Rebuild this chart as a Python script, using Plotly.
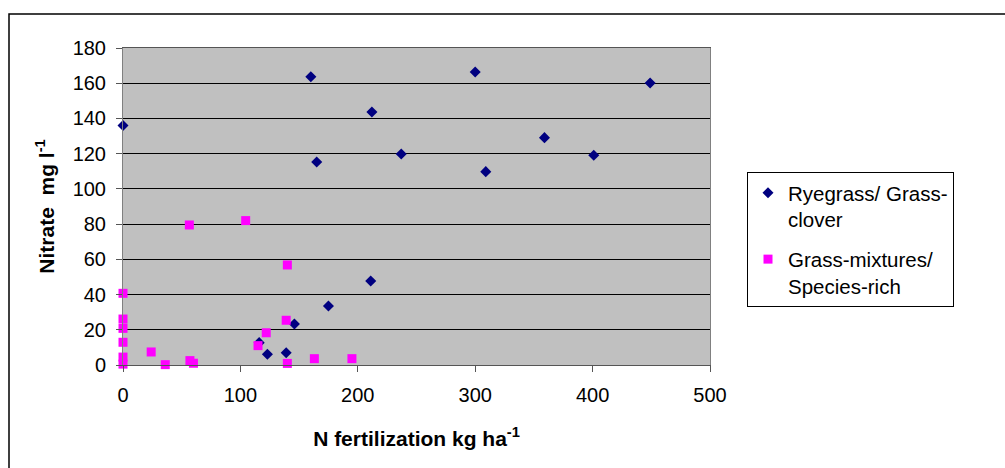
import plotly.graph_objects as go

# Data
ryegrass_x = [0, 116, 123, 139, 146, 160, 165, 175, 212, 211, 237, 300, 309, 359, 401, 449]
ryegrass_y = [136, 12.7, 6.1, 7.0, 23.3, 163.7, 115.3, 33.5, 143.7, 47.7, 119.8, 166.4, 109.8, 129.1, 119.1, 160.1]

grass_x = [0, 0, 0, 0, 0, 0, 24, 36, 57, 60, 56.5, 104.5, 115, 122, 139, 140, 140, 163, 195]
grass_y = [40.7, 26.1, 20.8, 12.9, 4.5, 0.5, 7.4, 0.2, 2.5, 1.0, 79.5, 82, 11, 18.3, 25.4, 56.8, 0.9, 3.6, 3.6]

ryegrass_name = "Ryegrass/ Grass-<br>clover"
grass_name = "Grass-mixtures/<br>Species-rich"

x_ticks = [0, 100, 200, 300, 400, 500]
y_ticks = [0, 20, 40, 60, 80, 100, 120, 140, 160, 180]

FONT = "Liberation Sans, Arial, sans-serif"

fig = go.Figure()
fig.add_trace(go.Scatter(
    x=ryegrass_x, y=ryegrass_y, mode="markers", name=ryegrass_name,
    legendgroup="a", cliponaxis=False,
    marker=dict(symbol="diamond", size=8.5, color="#000080", line=dict(width=0)),
))
fig.add_trace(go.Scatter(
    x=grass_x, y=grass_y, mode="markers", name=grass_name,
    legendgroup="b", cliponaxis=False,
    marker=dict(symbol="square", size=9, color="#FF00FF", line=dict(width=0)),
))

fig.update_layout(
    width=1005, height=468,
    margin=dict(l=123, r=295, t=48, b=103, autoexpand=False),
    paper_bgcolor="white",
    plot_bgcolor="#C0C0C0",
    font=dict(family=FONT, size=20, color="black"),
    showlegend=True,
    legend=dict(
        x=(747 - 123) / 587, y=1 - (172 - 48) / 317, xanchor="left", yanchor="top",
        bgcolor="white", bordercolor="black", borderwidth=1,
        font=dict(family=FONT, size=20.5, color="black"),
        tracegroupgap=10, valign="top", itemsizing="trace",
    ),
    xaxis=dict(
        range=[0, 500], tickvals=x_ticks, ticks="outside", ticklen=6,
        tickcolor="#555555", showgrid=False, zeroline=False,
        showline=True, linecolor="#555555", linewidth=1, mirror=True,
        ticklabelstandoff=6,
        title=dict(text="<b>N fertilization kg ha<sup>-1</sup></b>",
                   font=dict(family=FONT, size=21), standoff=26),
        automargin=False,
    ),
    yaxis=dict(
        range=[0, 180], tickvals=y_ticks, ticks="outside", ticklen=6,
        tickcolor="#555555", showgrid=True, gridcolor="black", gridwidth=1,
        zeroline=False, showline=True, linecolor="#808080", linewidth=1, mirror=True,
        ticklabelstandoff=6,
        title=dict(text="<b>Nitrate  mg l<sup>-1</sup></b>",
                   font=dict(family=FONT, size=21), standoff=12),
        automargin=False,
    ),
    shapes=[
        dict(type="rect", xref="paper", yref="paper",
             x0=(9 - 123) / 587, x1=(1012 - 123) / 587,
             y0=-(480 - 365) / 317, y1=1 + (48 - 14) / 317,
             line=dict(color="black", width=1.5), fillcolor="rgba(0,0,0,0)",
             layer="below"),
    ],
)

fig.write_html("out.html", config={"displayModeBar": False},
               post_script="document.body.style.margin='0px';")
